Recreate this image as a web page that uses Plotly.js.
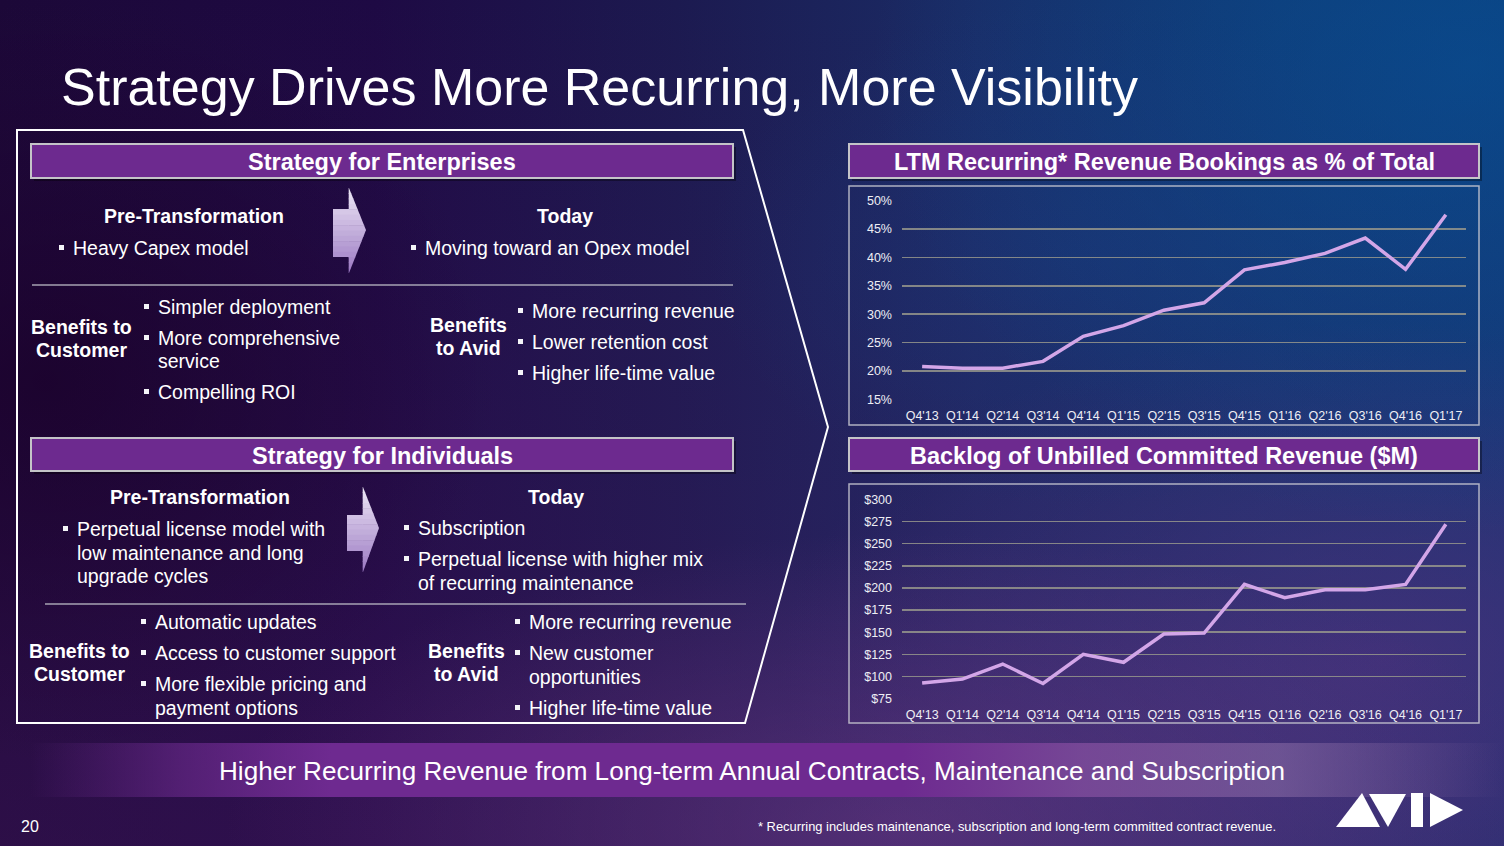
<!DOCTYPE html>
<html>
<head>
<meta charset="utf-8">
<script src="https://cdn.plot.ly/plotly-3.0.1.min.js"></script>
<style>
html,body{margin:0;padding:0;width:1504px;height:846px;overflow:hidden;}
body{
  background:
    radial-gradient(ellipse 45% 35% at 60% 98%, rgba(120,60,140,0.5), rgba(0,0,0,0)),
    radial-gradient(ellipse 40% 55% at 98% 8%, rgba(8,80,150,0.6), rgba(0,0,0,0)),
    radial-gradient(ellipse 25% 30% at 72% 30%, rgba(25,55,120,0.5), rgba(0,0,0,0)),
    radial-gradient(ellipse 40% 40% at 92% 78%, rgba(90,50,130,0.55), rgba(0,0,0,0)),
    radial-gradient(ellipse 30% 45% at 3% 45%, rgba(25,0,40,0.7), rgba(0,0,0,0)),
    linear-gradient(to bottom, rgba(0,0,0,0) 0%, rgba(70,25,95,0.4) 100%),
    linear-gradient(to right, #1c0838 0%, #1e0a44 25%, #1c1a50 45%, #1a2c66 65%, #103872 85%, #0c3c78 100%);
}
#banner{position:absolute;left:0;top:743px;width:1504px;height:54px;
  background:linear-gradient(to right, rgba(108,42,142,0) 2%, rgba(108,42,142,0.6) 12%, #6e2a90 22%, #6e2a90 60%, rgba(125,75,155,0.85) 72%, rgba(135,105,165,0.6) 85%, rgba(130,100,160,0) 100%);}
#plot{position:absolute;left:0;top:0;width:1504px;height:846px;}
</style>
</head>
<body>
<div id="banner"></div>
<div id="plot"></div>
<script>
// ---------------- DATA ----------------
const quarters = ["Q4'13","Q1'14","Q2'14","Q3'14","Q4'14","Q1'15","Q2'15","Q3'15","Q4'15","Q1'16","Q2'16","Q3'16","Q4'16","Q1'17"];
const recurringPct = [20.8, 20.5, 20.5, 21.7, 26.1, 28.0, 30.7, 32.0, 37.8, 39.1, 40.7, 43.4, 37.9, 47.5];
const backlogM = [92.5, 97, 114, 92, 125, 116, 148, 149, 204, 189, 198, 198, 204, 272];
const pctTicks = [15, 20, 25, 30, 35, 40, 45, 50];
const backlogTicks = [75, 100, 125, 150, 175, 200, 225, 250, 275, 300];

const slideTitle = "Strategy Drives More Recurring, More Visibility";
const chart1Title = "LTM Recurring* Revenue Bookings as % of Total";
const chart2Title = "Backlog of Unbilled Committed Revenue ($M)";
const entTitle = "Strategy for Enterprises";
const indTitle = "Strategy for Individuals";
const bannerText = "Higher Recurring Revenue from Long-term Annual Contracts, Maintenance and Subscription";
const footnote = "* Recurring includes maintenance, subscription and long-term committed contract revenue.";
const pageNum = "20";

// ---------------- HELPERS ----------------
const W = 1504, H = 846;
const px = x => x / W;
const py = y => 1 - y / H;
const FONT = "Liberation Sans, Arial, Helvetica, sans-serif";
const ann = [];
const shapes = [];
function txt(text, x, y, opts) {
  opts = opts || {};
  const anchor = opts.anchor || 'left';
  ann.push({
    text: text, x: px(anchor === 'left' ? x - 2 : x), y: py(y), xref: 'paper', yref: 'paper',
    xanchor: anchor, yanchor: 'middle', showarrow: false,
    font: {family: FONT, size: opts.size || 19.5, color: opts.color || '#ffffff',
           weight: opts.bold ? 'bold' : 'normal'},
    align: anchor === 'center' ? 'center' : 'left'
  });
}
function rectPx(x0, y0, x1, y1, fill, line, lw, layer) {
  shapes.push({type: 'rect', xref: 'paper', yref: 'paper', x0: px(x0), x1: px(x1), y0: py(y1), y1: py(y0),
    fillcolor: fill, line: {color: line || 'rgba(0,0,0,0)', width: lw || 0}, layer: layer || 'below'});
}
function bullet(x, y, text) {
  rectPx(x - 14, y - 3, x - 9, y + 2, '#f4f4f8');
  txt(text, x, y);
}
function pathPx(pts, fill, line, lw) {
  let d = pts.map((p, i) => (i ? 'L' : 'M') + px(p[0]).toFixed(5) + ',' + py(p[1]).toFixed(5)).join(' ') + ' Z';
  shapes.push({type: 'path', xref: 'paper', yref: 'paper', path: d,
    fillcolor: fill || 'rgba(0,0,0,0)', line: {color: line || 'rgba(0,0,0,0)', width: lw || 0}, layer: 'below'});
}
function lineSeg(x0, y0, x1, y1, color, w) {
  shapes.push({type: 'line', xref: 'paper', yref: 'paper', x0: px(x0), y0: py(y0), x1: px(x1), y1: py(y1),
    line: {color: color, width: w}, layer: 'below'});
}
// block arrow with vertical gradient (light top -> lavender bottom)
function blockArrow(bx0, bx1, by0, by1, hy0, hy1, tipx, tipy) {
  const n = 16;
  const c0 = [234, 228, 244], c1 = [158, 124, 196];
  for (let i = 0; i < n; i++) {
    const y0 = hy0 + (hy1 - hy0) * i / n, y1 = hy0 + (hy1 - hy0) * (i + 1) / n + 0.6;
    const t = i / (n - 1);
    const col = `rgb(${c0.map((c, k) => Math.round(c + (c1[k] - c) * t)).join(',')})`;
    const xt = y => y <= tipy ? bx1 + (tipx - bx1) * (y - hy0) / (tipy - hy0) : bx1 + (tipx - bx1) * (hy1 - y) / (hy1 - tipy);
    const yy1 = Math.min(y1, hy1);
    const pts = [[bx1 - 0.3, y0], [xt(y0), y0]];
    if (y0 < tipy && yy1 > tipy) pts.push([tipx, tipy]);
    pts.push([xt(yy1), yy1], [bx1 - 0.3, yy1]);
    pathPx(pts, col);
    const a = Math.max(y0, by0), b = Math.min(yy1, by1);
    if (b > a) pathPx([[bx0, a], [bx1, a], [bx1, b], [bx0, b]], col);
  }
}

// ---------------- DECORATION ----------------
pathPx([[17, 130], [743, 130], [828, 427], [745, 723], [17, 723]], null, '#ffffff', 2);
function headerBar(x0, y0, x1, y1, text, cx) {
  rectPx(x0 + 3, y0 + 3, x1 + 3, y1 + 3, 'rgba(0,0,0,0.35)');
  rectPx(x0, y0, x1, y1, '#6d2a8f', '#c4c4c8', 2);
  txt(text, cx, (y0 + y1) / 2 + 1, {anchor: 'center', size: 23.5, bold: true});
}
headerBar(31, 144, 733, 178, entTitle, 382);
headerBar(31, 438, 733, 471, indTitle, 382);
headerBar(849, 144, 1479, 178, chart1Title, 1164);
headerBar(849, 438, 1479, 471, chart2Title, 1164);
rectPx(849, 186, 1479, 425, 'rgba(0,0,0,0)', 'rgba(200,200,210,0.85)', 1.5);
rectPx(849, 484, 1479, 723, 'rgba(0,0,0,0)', 'rgba(200,200,210,0.85)', 1.5);
lineSeg(32, 285, 733, 285, 'rgba(190,190,200,0.85)', 1.5);
lineSeg(45, 604, 746, 604, 'rgba(190,190,200,0.85)', 1.5);
blockArrow(333, 349, 209, 257, 188, 273, 366, 230);
blockArrow(347, 363, 515, 551, 487, 572, 379, 528);

// ---------------- TEXT ----------------
txt(slideTitle, 61, 87, {size: 52});

// Enterprises
txt('Pre-Transformation', 194, 216, {anchor: 'center', bold: true});
bullet(73, 248, 'Heavy Capex model');
txt('Today', 565, 216, {anchor: 'center', bold: true});
bullet(425, 248, 'Moving toward an Opex model');
txt('Benefits to', 81, 327, {anchor: 'center', bold: true});
txt('Customer', 81, 350, {anchor: 'center', bold: true});
bullet(158, 307, 'Simpler deployment');
bullet(158, 338, 'More comprehensive');
txt('service', 158, 361);
bullet(158, 392, 'Compelling ROI');
txt('Benefits', 468, 325, {anchor: 'center', bold: true});
txt('to Avid', 468, 348, {anchor: 'center', bold: true});
bullet(532, 311, 'More recurring revenue');
bullet(532, 342, 'Lower retention cost');
bullet(532, 373, 'Higher life-time value');

// Individuals
txt('Pre-Transformation', 200, 497, {anchor: 'center', bold: true});
bullet(77, 529, 'Perpetual license model with');
txt('low maintenance and long', 77, 553);
txt('upgrade cycles', 77, 576);
txt('Today', 556, 497, {anchor: 'center', bold: true});
bullet(418, 528, 'Subscription');
bullet(418, 559, 'Perpetual license with higher mix');
txt('of recurring maintenance', 418, 583);
txt('Benefits to', 79, 651, {anchor: 'center', bold: true});
txt('Customer', 79, 674, {anchor: 'center', bold: true});
bullet(155, 622, 'Automatic updates');
bullet(155, 653, 'Access to customer support');
bullet(155, 684, 'More flexible pricing and');
txt('payment options', 155, 708);
txt('Benefits', 467, 651, {anchor: 'center', bold: true});
txt('to Avid', 467, 674, {anchor: 'center', bold: true});
bullet(529, 622, 'More recurring revenue');
bullet(529, 653, 'New customer');
txt('opportunities', 529, 677);
bullet(529, 708, 'Higher life-time value');

// banner + footer
txt(bannerText, 752, 771, {anchor: 'center', size: 26.1});
txt(pageNum, 21, 826, {size: 16});
txt(footnote, 1017, 826, {anchor: 'center', size: 12.9});

// AVID logo
pathPx([[1362, 793], [1380, 827], [1336, 827]], '#ffffff');
pathPx([[1369, 794], [1406, 794], [1388, 827]], '#ffffff');
rectPx(1411, 793, 1423, 827, '#ffffff');
pathPx([[1430, 793], [1463, 810], [1430, 827]], '#ffffff');

// ---------------- CHARTS ----------------
const lineStyle = {color: '#d3a6e8', width: 3.5, shape: 'linear'};
const traces = [
  {x: quarters, y: recurringPct, type: 'scatter', mode: 'lines', line: lineStyle, xaxis: 'x', yaxis: 'y', hoverinfo: 'skip'},
  {x: quarters, y: backlogM, type: 'scatter', mode: 'lines', line: lineStyle, xaxis: 'x2', yaxis: 'y2', hoverinfo: 'skip'}
];
const tickFont = {family: FONT, size: 12.5, color: '#eeeef4'};
const xBase = {type: 'category', range: [-0.5, 13.5], showgrid: false, zeroline: false, showline: false,
  ticks: '', tickfont: tickFont, ticklabelstandoff: 6, fixedrange: true, tickangle: 0};
const yBase = {showgrid: true, gridcolor: 'rgba(150,150,140,0.85)', gridwidth: 1.5, zeroline: false, showline: false,
  ticks: '', tickfont: tickFont, ticklabelstandoff: 9, fixedrange: true};
const layout = {
  width: W, height: H, margin: {l: 0, r: 0, t: 0, b: 0},
  paper_bgcolor: 'rgba(0,0,0,0)', plot_bgcolor: 'rgba(0,0,0,0)', showlegend: false,
  xaxis: Object.assign({}, xBase, {domain: [px(902), px(1466)], anchor: 'y'}),
  yaxis: Object.assign({}, yBase, {domain: [py(400), py(200)], range: [14.9, 50.1], tickvals: pctTicks,
    ticktext: pctTicks.map(v => v + '%'), anchor: 'x'}),
  xaxis2: Object.assign({}, xBase, {domain: [px(902), px(1466)], anchor: 'y2'}),
  yaxis2: Object.assign({}, yBase, {domain: [py(699), py(499)], range: [74.5, 300.5], tickvals: backlogTicks,
    ticktext: backlogTicks.map(v => '$' + v), anchor: 'x2'}),
  annotations: ann, shapes: shapes
};
Plotly.newPlot('plot', traces, layout, {staticPlot: true, displayModeBar: false});
</script>
</body>
</html>
